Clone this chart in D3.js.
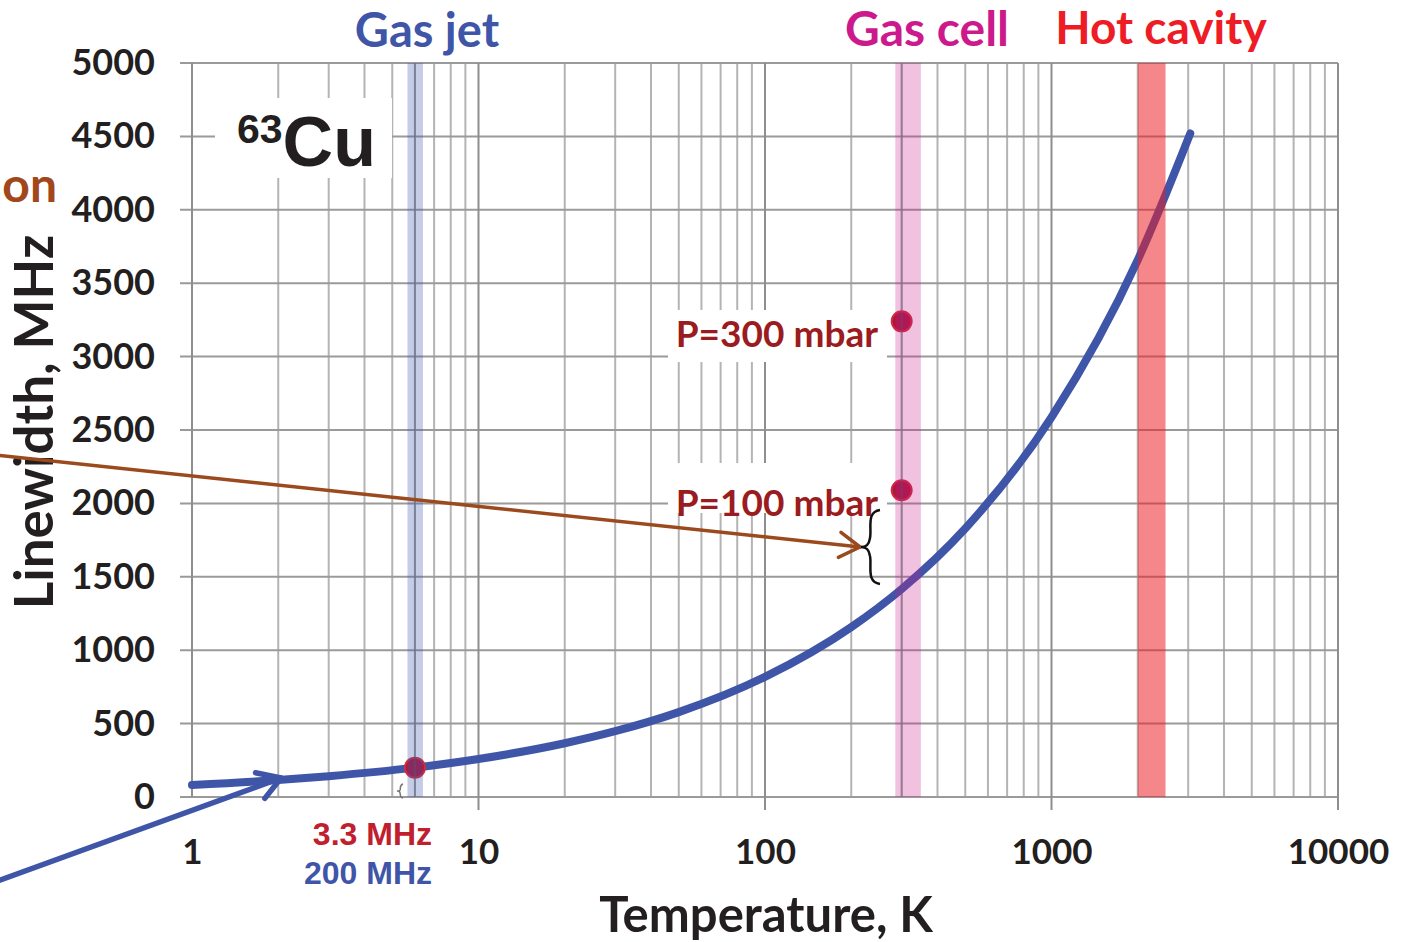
<!DOCTYPE html>
<html>
<head>
<meta charset="utf-8">
<script src="https://cdn.jsdelivr.net/npm/d3@7"></script>
<style>
  html, body { margin: 0; padding: 0; background: #fff; }
  svg { display: block; }
  text { font-weight: 700; }
</style>
</head>
<body>
<svg id="chart" width="1413" height="942"></svg>
<script>
// Doppler linewidth of 63Cu versus temperature
const tempK    = [1, 2, 3, 6, 10, 20, 30, 50, 100, 200, 300, 500, 1000, 2000, 3050];
const widthMHz = [82, 116, 142, 200, 259, 366, 448, 578, 818, 1157, 1417, 1829, 2587, 3658, 4520];

// Pressure-broadened widths in the gas cell
const cellTemp   = [300, 300];
const cellWidth  = [3240, 2090];
const cellLabels = ["P=300 mbar", "P=100 mbar"];

// Gas-jet operating point
const jetTemp = 6;
const jetWidth = 200;
const jetLabels = ["3.3 MHz", "200 MHz"];

// Temperature regions of the three sources
const regionNames = ["Gas jet", "Gas cell", "Hot cavity"];
const regionLow   = [5.65, 285, 2000];
const regionHigh  = [6.4, 350, 2500];
const regionMark  = [6, 300, null];

const xTickLabels = [1, 10, 100, 1000, 10000];
const yTickValues = [0, 500, 1000, 1500, 2000, 2500, 3000, 3500, 4000, 4500, 5000];

const svg = d3.select("#chart");
const pLeft = 192, pRight = 1338, pTop = 63, pBottom = 797;

const x = d3.scaleLog().domain([1, 10000]).range([pLeft, pRight]);
const y = d3.scaleLinear().domain([0, 5000]).range([pBottom, pTop]);

const regionFill   = ["rgba(63,86,168,0.30)", "rgba(204,26,140,0.27)", "rgba(237,28,36,0.53)"];
const regionText   = ["#3f56a8", "#cc1a8c", "#ee1c24"];
const blue = "#3f56a8";
const ink = "#231f20";
const LATO = "Lato, 'Open Sans', sans-serif";
const ARIAL = "'Liberation Sans', Arial, sans-serif";

// ---- grid ----
const grid = svg.append("g");
const vTicks = x.ticks();
const isDecade = v => Math.abs(Math.log10(v) - Math.round(Math.log10(v))) < 1e-9;

grid.selectAll("line.v").data(vTicks.filter(v => !isDecade(v))).join("line")
  .attr("x1", d => x(d)).attr("x2", d => x(d))
  .attr("y1", pTop).attr("y2", pBottom)
  .attr("stroke", "#b4b4b4").attr("stroke-width", 2);

grid.selectAll("line.h").data(yTickValues).join("line")
  .attr("x1", pLeft - 12).attr("x2", pRight)
  .attr("y1", d => y(d)).attr("y2", d => y(d))
  .attr("stroke", "#9a9a9a").attr("stroke-width", 2);

grid.selectAll("line.d").data(vTicks.filter(isDecade)).join("line")
  .attr("x1", d => x(d)).attr("x2", d => x(d))
  .attr("y1", pTop).attr("y2", d => (d === 1 ? pBottom : pBottom + 13))
  .attr("stroke", "#8e8e8e").attr("stroke-width", 2);

// white boxes behind annotations
const boxes = [
  [215, 98, 177, 80],
  [668, 310, 219, 52],
  [668, 463, 219, 50]
];
svg.append("g").selectAll("rect").data(boxes).join("rect")
  .attr("x", d => d[0]).attr("y", d => d[1])
  .attr("width", d => d[2]).attr("height", d => d[3])
  .attr("fill", "#fff");

// ---- axes ----
const yAxis = d3.axisLeft(y).tickValues(yTickValues).tickFormat(d3.format("d"))
  .tickSize(0).tickPadding(37);
const gy = svg.append("g").attr("transform", `translate(${pLeft},0)`).call(yAxis);
gy.select(".domain").remove();
gy.selectAll("text").style("font-size", "36px").style("fill", ink)
  .style("font-family", LATO).style("font-weight", 700);

const xAxis = d3.axisBottom(x).tickValues(xTickLabels).tickFormat(d3.format("d"))
  .tickSize(0).tickPadding(42);
const gx = svg.append("g").attr("transform", `translate(0,${pBottom})`).call(xAxis);
gx.select(".domain").remove();
gx.selectAll("text").style("font-size", "35px").style("fill", ink)
  .style("font-family", LATO).style("font-weight", 700);

// axis titles
svg.append("text").attr("x", 766).attr("y", 932).attr("text-anchor", "middle")
  .style("font-family", LATO).style("font-size", "49px").style("fill", ink)
  .text("Temperature, K");
svg.append("text").attr("transform", "translate(53,422) rotate(-90)")
  .attr("text-anchor", "middle")
  .style("font-family", LATO).style("font-size", "53px").style("fill", ink)
  .text("Linewidth, MHz");

// ---- curve ----
const line = d3.line().x((d, i) => x(tempK[i])).y(d => y(d)).curve(d3.curveMonotoneX);
svg.append("path").datum(widthMHz).attr("d", line)
  .attr("fill", "none").attr("stroke", blue).attr("stroke-width", 8)
  .attr("stroke-linecap", "round");

// ---- points ----
const dotFill = "#a8173f", dotStroke = "#d42a3c";
svg.append("g").selectAll("circle").data(cellTemp).join("circle")
  .attr("cx", d => x(d)).attr("cy", (d, i) => y(cellWidth[i])).attr("r", 10)
  .attr("fill", dotFill).attr("stroke", dotStroke).attr("stroke-width", 2);
svg.append("circle").attr("cx", x(jetTemp)).attr("cy", y(jetWidth)).attr("r", 10)
  .attr("fill", dotFill).attr("stroke", dotStroke).attr("stroke-width", 2);

// ---- source regions ----
const reg = svg.append("g");
regionNames.forEach((name, i) => {
  reg.append("rect")
    .attr("x", x(regionLow[i])).attr("width", x(regionHigh[i]) - x(regionLow[i]))
    .attr("y", pTop).attr("height", pBottom - pTop)
    .attr("fill", regionFill[i]);
  if (regionMark[i] !== null) {
    reg.append("line")
      .attr("x1", x(regionMark[i])).attr("x2", x(regionMark[i]))
      .attr("y1", pTop).attr("y2", pBottom)
      .attr("stroke", "rgba(90,90,120,0.35)").attr("stroke-width", 2);
  }
});
const regionLabelX = [427, 927, 1161];
const regionLabelY = [47, 46, 44];
const regionLabelSize = [47, 48, 46];
svg.append("g").selectAll("text").data(regionNames).join("text")
  .attr("x", (d, i) => regionLabelX[i]).attr("y", (d, i) => regionLabelY[i])
  .attr("text-anchor", "middle")
  .style("font-family", LATO).style("font-size", (d, i) => regionLabelSize[i] + "px")
  .style("fill", (d, i) => regionText[i]).text(d => d);

// ---- labels ----
svg.append("g").selectAll("text").data(cellLabels).join("text")
  .attr("x", 878).attr("y", (d, i) => y(cellWidth[i]) + 26)
  .attr("text-anchor", "end")
  .style("font-family", LATO).style("font-size", "37px").style("fill", "#9b1c20")
  .text(d => d);

svg.append("text").attr("x", 432).attr("y", 845).attr("text-anchor", "end")
  .style("font-family", ARIAL).style("font-size", "32px").style("fill", "#c0202e")
  .text(jetLabels[0]);
svg.append("text").attr("x", 432).attr("y", 884).attr("text-anchor", "end")
  .style("font-family", ARIAL).style("font-size", "32px").style("fill", blue)
  .text(jetLabels[1]);

// isotope label
const iso = svg.append("text").style("font-family", ARIAL).style("fill", ink);
iso.append("tspan").attr("x", 237).attr("y", 143).style("font-size", "41px").text("63");
iso.append("tspan").attr("y", 166).style("font-size", "70px").text("Cu");

// cut-off label on the left edge
svg.append("text").attr("x", 57).attr("y", 202).attr("text-anchor", "end")
  .style("font-family", LATO).style("font-size", "48px").style("fill", "#a0481c")
  .text("on");

// ---- arrows and braces ----
function arrow(x0, y0, x1, y1, color, w, head) {
  const g = svg.append("g").attr("stroke", color).attr("stroke-width", w)
    .attr("fill", "none").attr("stroke-linecap", "round").attr("stroke-linejoin", "round");
  g.append("line").attr("x1", x0).attr("y1", y0).attr("x2", x1).attr("y2", y1);
  const a = Math.atan2(y1 - y0, x1 - x0), s = 0.55;
  const p1 = [x1 - head * Math.cos(a - s), y1 - head * Math.sin(a - s)];
  const p2 = [x1 - head * Math.cos(a + s), y1 - head * Math.sin(a + s)];
  g.append("path").attr("d", `M${p1}L${x1},${y1}L${p2}`);
}
arrow(-5, 455, 860, 547, "#9b4a1e", 3.5, 24);
arrow(-5, 882, 281, 778, blue, 5.5, 26);

// brace beside the gas-cell linewidth
svg.append("path")
  .attr("d", "M880,510 C866,512 872,528 870,538 C869,545 866,547 861,547 C866,547 869,549 870,556 C872,566 866,582 880,584")
  .attr("fill", "none").attr("stroke", "#111").attr("stroke-width", 2.5);
// small brace at the gas-jet point
svg.append("path")
  .attr("d", "M403,784 C399,785 401,789 400,790 C400,791 398,791 397,791 C398,791 400,791 400,793 C401,795 399,797 403,798")
  .attr("fill", "none").attr("stroke", "#777").attr("stroke-width", 1.5);
</script>
</body>
</html>
